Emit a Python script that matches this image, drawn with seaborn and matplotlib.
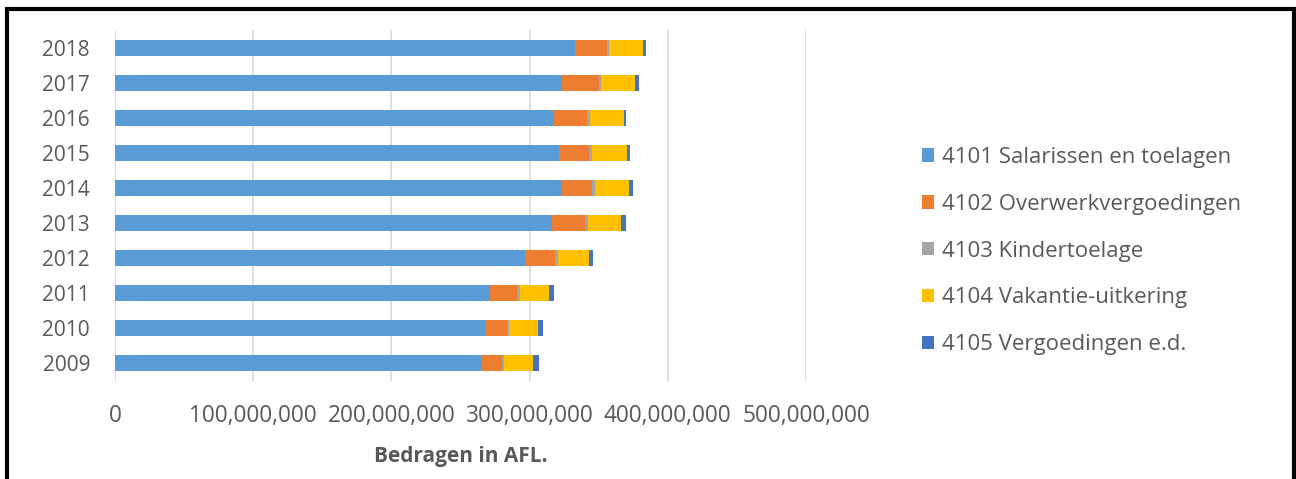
import matplotlib
matplotlib.use("Agg")
import matplotlib.pyplot as plt
import matplotlib.patches as mpatches
import matplotlib.ticker as mticker
import numpy as np
import pandas as pd
import seaborn as sns

years = ["2018", "2017", "2016", "2015", "2014", "2013", "2012", "2011", "2010", "2009"]
salarissen = [332.9, 323.2, 317.9, 321.3, 323.2, 316.5, 296.5, 271.5, 267.4, 265.0]
overwerk = [22.9, 26.8, 23.8, 21.9, 22.1, 23.8, 22.1, 19.3, 16.1, 14.9]
kinder = [1.7, 1.9, 1.9, 2.2, 1.9, 1.7, 1.7, 1.9, 1.9, 1.7]
vakantie = [24.3, 24.5, 24.5, 24.8, 24.5, 24.3, 22.6, 21.4, 20.9, 21.1]
vergoed = [2.4, 2.4, 1.7, 2.2, 2.9, 3.8, 3.1, 3.8, 3.6, 4.1]
series_names = ["4101 Salarissen en toelagen", "4102 Overwerkvergoedingen",
                "4103 Kindertoelage", "4104 Vakantie-uitkering", "4105 Vergoedingen e.d."]
colors = ["#5B9BD5", "#ED7D31", "#A5A5A5", "#FFC000", "#4472C4"]
x_ticks = [0, 100e6, 200e6, 300e6, 400e6, 500e6]

sns.set_theme(style="white")
plt.rcParams["font.family"] = ["Open Sans", "DejaVu Sans"]
txt = "#595959"

series = [salarissen, overwerk, kinder, vakantie, vergoed]
cum = np.cumsum(np.array(series) * 1e6, axis=0)

fig = plt.figure(figsize=(12.96, 4.79), dpi=100)
ax = fig.add_axes([115 / 1296, 1 - 380.5 / 479, (806 - 115) / 1296, 350 / 479])

for i in range(len(series) - 1, -1, -1):
    df = pd.DataFrame({"year": years, "value": cum[i]})
    sns.barplot(data=df, x="value", y="year", order=years, orient="h",
                color=colors[i], saturation=1, width=0.44, ax=ax, zorder=3,
                linewidth=0)

ax.set_xlim(0, 500e6)
ax.set_xticks(x_ticks)
ax.xaxis.set_major_formatter(mticker.FuncFormatter(lambda v, p: f"{int(v):,}"))
ax.grid(axis="x", color="#D9D9D9", linewidth=1.2, zorder=0)
ax.grid(axis="y", visible=False)
for s in ax.spines.values():
    s.set_visible(False)
ax.tick_params(axis="both", length=0, colors=txt)
ax.tick_params(axis="x", labelsize=16.3, pad=17)
ax.tick_params(axis="y", labelsize=15, pad=18)
ax.set_ylabel("")
ax.set_xlabel("Bedragen in AFL.", fontsize=15, fontweight="bold", color=txt, labelpad=13)

handles = [mpatches.Patch(facecolor=c, edgecolor="none") for c in colors]
fig.legend(handles, series_names, loc="center left", bbox_to_anchor=(902 / 1296, 1 - 251 / 479),
           frameon=False, fontsize=16, labelcolor=txt, handlelength=0.55, handleheight=0.55,
           handletextpad=0.35, labelspacing=1.16)

border = mpatches.Rectangle((7 / 1296, -0.05), (1294 - 7) / 1296, 1.05 - 8.5 / 479,
                            transform=fig.transFigure, fill=False, edgecolor="black",
                            linewidth=3, zorder=10)
fig.patches.append(border)

fig.savefig("out.png", dpi=100, facecolor="white")
